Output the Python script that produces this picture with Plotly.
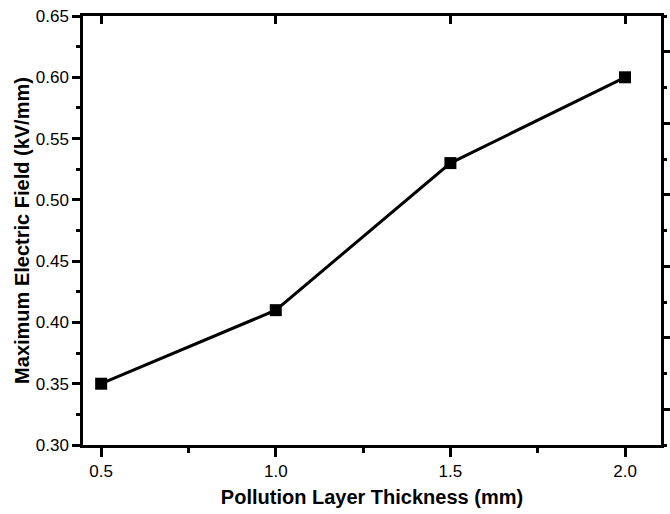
import plotly.graph_objects as go

thickness = [0.5, 1.0, 1.5, 2.0]
max_field = [0.35, 0.41, 0.53, 0.60]

fig = go.Figure()

fig.add_trace(go.Scatter(
    x=thickness, y=max_field, mode='lines+markers',
    line=dict(color='black', width=3),
    marker=dict(symbol='square', size=12, color='black'),
    showlegend=False
))

# dummy trace so the top/right axes get drawn
fig.add_trace(go.Scatter(x=[0.5], y=[0], xaxis='x2', yaxis='y2',
                         mode='markers', marker=dict(opacity=0), showlegend=False,
                         hoverinfo='skip'))

font = dict(family='Liberation Sans, Arial, sans-serif', color='black')

fig.update_layout(
    width=670, height=514,
    margin=dict(l=83, r=9, t=16, b=69),
    plot_bgcolor='white', paper_bgcolor='white',
    font=dict(size=17, **font),
    xaxis=dict(
        range=[0.448, 2.103], tick0=0.5, dtick=0.5, tickformat='.1f',
        ticks='outside', ticklen=9, tickwidth=2.5, tickcolor='black',
        minor=dict(ticks='outside', ticklen=5, tickwidth=2.5, tick0=0.5, dtick=0.25, tickcolor='black'),
        showline=True, linewidth=2.5, linecolor='black', showgrid=False, zeroline=False,
        tickfont=dict(size=17), automargin=False,
        title=dict(text='<b>Pollution Layer Thickness (mm)</b>', font=dict(size=20), standoff=10),
    ),
    yaxis=dict(
        range=[0.30, 0.65], tick0=0.30, dtick=0.05, tickformat='.2f',
        ticks='outside', ticklen=8, tickwidth=2.5, tickcolor='black',
        minor=dict(ticks='outside', ticklen=4, tickwidth=2.5, tick0=0.30, dtick=0.025, tickcolor='black'),
        showline=True, linewidth=2.5, linecolor='black', showgrid=False, zeroline=False,
        tickfont=dict(size=17), automargin=False,
        title=dict(text='<b>Maximum Electric Field (kV/mm)</b>', font=dict(size=20), standoff=1),
    ),
    xaxis2=dict(
        overlaying='x', side='top', range=[0.448, 2.103], tick0=0.5, dtick=0.5,
        ticks='inside', ticklen=8, tickwidth=2.5, tickcolor='black',
        showticklabels=False, showline=True, linewidth=2.5, linecolor='black',
        showgrid=False, zeroline=False, automargin=False,
    ),
    yaxis2=dict(
        overlaying='y', side='right', range=[0, 12], tick0=1, dtick=2,
        ticks='outside', ticklen=6, tickwidth=2.5, tickcolor='black',
        minor=dict(ticks='outside', ticklen=3, tickwidth=2.5, tick0=0, dtick=1, tickcolor='black'),
        showticklabels=False, showline=True, linewidth=2.5, linecolor='black',
        showgrid=False, zeroline=False, automargin=False,
    ),
)

# drop the default body margin so the figure sits at the page corner
fig.write_html('out.html', config={'displayModeBar': False},
               post_script="document.body.style.margin='0';")
